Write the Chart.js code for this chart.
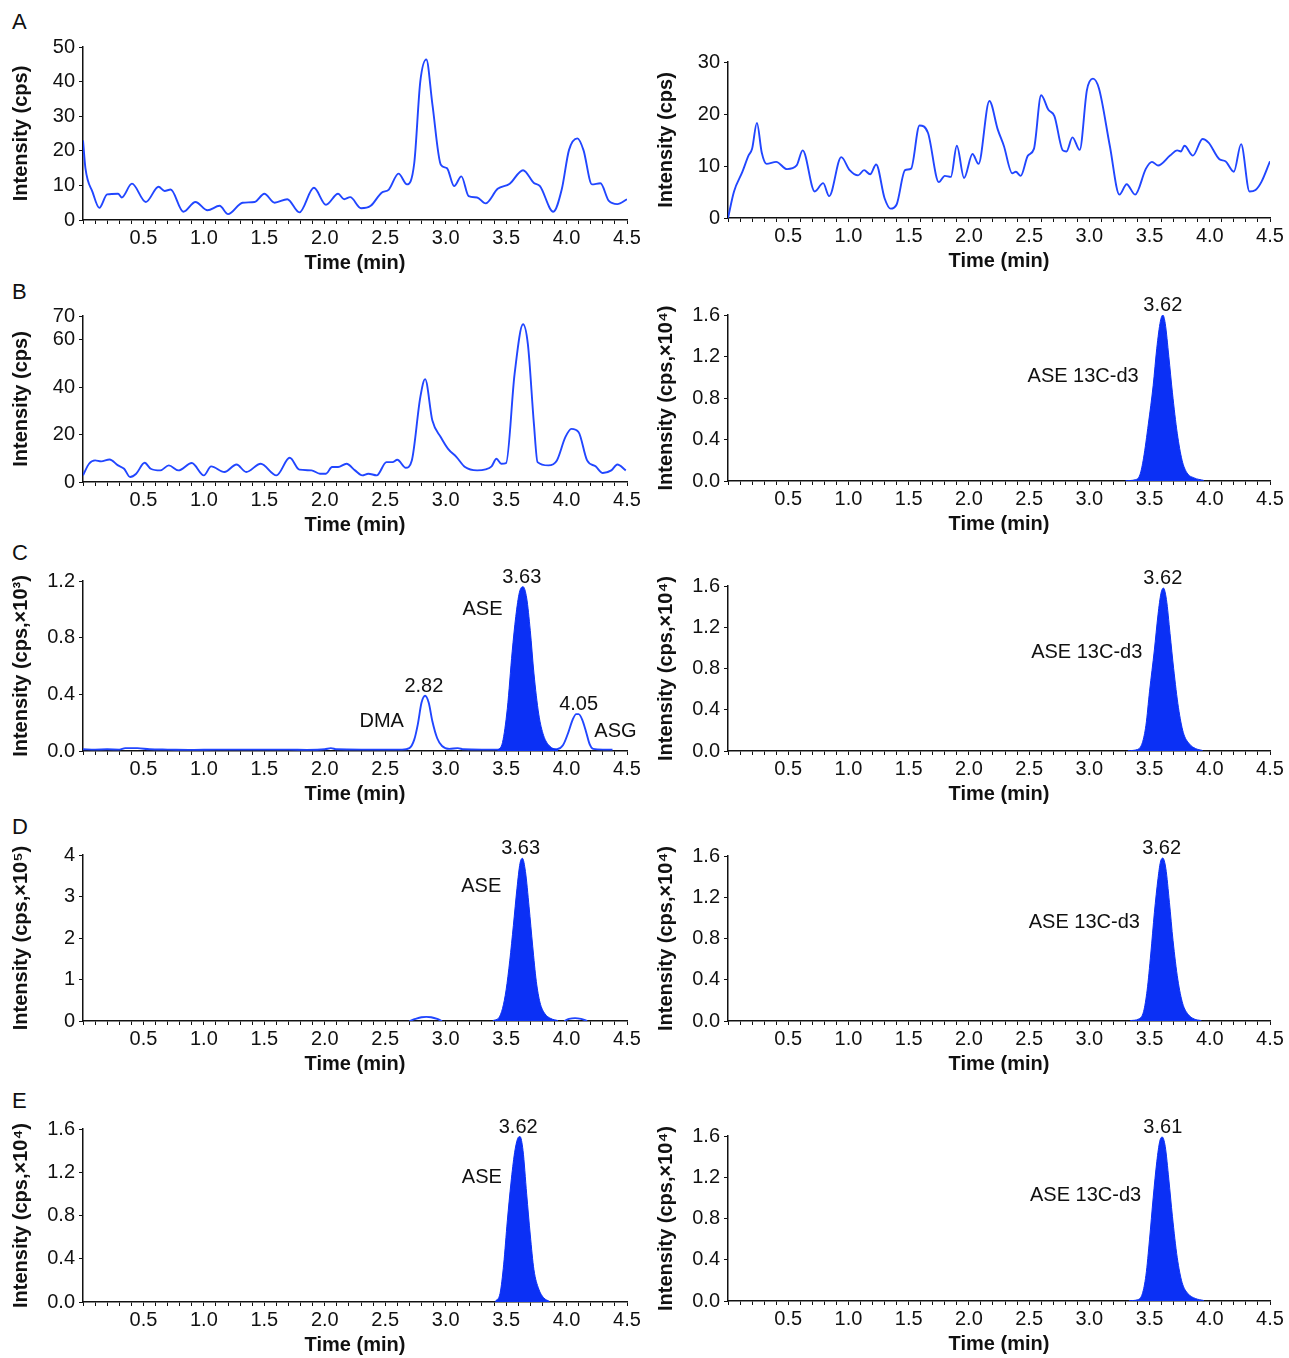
<!DOCTYPE html>
<html>
<head>
<meta charset="utf-8">
<title>Chromatograms</title>
<script src="https://cdn.jsdelivr.net/npm/chart.js@4.4.0/dist/chart.umd.min.js"></script>
<style>
  html, body { margin: 0; padding: 0; background: #fff; overflow: hidden; }
  body { width: 1289px; height: 1358px; position: relative; font-family: "Liberation Sans", Arial, sans-serif; }
  .panel { position: absolute; }
  .letter { position: absolute; font-size: 22px; line-height: 22px; color: #111; }
</style>
</head>
<body>
<div class="letter" style="left:12px; top:11px;">A</div>
<div class="letter" style="left:12px; top:281px;">B</div>
<div class="letter" style="left:12px; top:542px;">C</div>
<div class="letter" style="left:12px; top:816px;">D</div>
<div class="letter" style="left:12px; top:1090px;">E</div>

<script>
// ---- data ----
const xTickLabels = ["0.5", "1.0", "1.5", "2.0", "2.5", "3.0", "3.5", "4.0", "4.5"];

// A, blank (cps)
const aLeftTimes = [0, 0.02, 0.08, 0.135, 0.2, 0.29, 0.32, 0.405, 0.52, 0.625, 0.675, 0.725, 0.83, 0.93, 1.03, 1.13, 1.2, 1.32, 1.42, 1.5,
  1.585, 1.69, 1.79, 1.91, 2.01, 2.11, 2.16, 2.21, 2.3, 2.38, 2.47, 2.53, 2.61, 2.68, 2.74, 2.79, 2.84, 2.89, 2.96, 3.01,
  3.07, 3.13, 3.19, 3.26, 3.33, 3.43, 3.53, 3.64, 3.73, 3.78, 3.89, 3.96, 4.02, 4.09, 4.14, 4.21, 4.28, 4.35, 4.42, 4.5];
const aLeftValues = [23, 15, 8, 3.5, 7.4, 7.6, 6.5, 10.5, 5.2, 9.6, 8.4, 8.8, 2.4, 5.2, 2.8, 4.1, 1.7, 5, 5.2, 7.6,
  5, 6, 2.2, 9.3, 4.4, 7.6, 6, 6.6, 3.4, 4.1, 7.9, 8.8, 13.4, 10.3, 16.4, 40, 46.4, 33.5, 16, 15,
  9.8, 12.6, 6.9, 6.5, 4.8, 9, 10.5, 14.4, 10.7, 9.8, 2.4, 8.8, 20.2, 23.6, 20.2, 10.3, 10.6, 5.5, 4.6, 6];

const aRightTimes = [0, 0.05, 0.12, 0.17, 0.2, 0.24, 0.28, 0.32, 0.4, 0.49, 0.57, 0.62, 0.72, 0.79, 0.84, 0.94, 1.01, 1.08, 1.13, 1.18,
  1.23, 1.3, 1.35, 1.4, 1.47, 1.52, 1.59, 1.66, 1.75, 1.8, 1.85, 1.9, 1.96, 2.03, 2.08, 2.17, 2.24, 2.29, 2.36, 2.39,
  2.43, 2.49, 2.54, 2.6, 2.66, 2.71, 2.78, 2.81, 2.86, 2.92, 2.98, 3.03, 3.08, 3.17, 3.25, 3.31, 3.38, 3.47, 3.52, 3.57,
  3.67, 3.73, 3.76, 3.79, 3.86, 3.94, 3.99, 4.08, 4.13, 4.2, 4.26, 4.33, 4.38, 4.43, 4.5];
const aRightValues = [0, 5.1, 8.9, 12, 13.3, 18.3, 12.6, 10.4, 10.8, 9.4, 10.1, 13, 5.1, 6.7, 4.2, 11.7, 9.2, 8.2, 9.2, 8.4,
  10.3, 3.8, 1.8, 2.6, 9.2, 9.5, 17.8, 16.4, 6.9, 8.1, 7.9, 13.9, 7.7, 12.3, 10.4, 22.5, 17, 13.9, 8.6, 8.9,
  8.1, 12, 13.3, 23.6, 20.8, 19.6, 13, 12.8, 15.5, 13.1, 24.6, 26.8, 24.9, 13.9, 4.5, 6.5, 4.5, 9.5, 10.8, 10.1,
  12, 13, 12.8, 13.9, 12, 15.2, 14.5, 11.3, 10.9, 8.9, 14.2, 5.1, 5.4, 7, 10.9];

// B
const bLeftTimes = [0, 0.05, 0.1, 0.15, 0.22, 0.29, 0.34, 0.39, 0.44, 0.51, 0.56, 0.64, 0.71, 0.79, 0.9, 1.0, 1.06, 1.17, 1.27, 1.35,
  1.47, 1.6, 1.71, 1.79, 1.89, 1.96, 2.01, 2.06, 2.11, 2.18, 2.25, 2.31, 2.36, 2.43, 2.51, 2.56, 2.6, 2.67, 2.72, 2.79,
  2.83, 2.89, 2.96, 3.02, 3.09, 3.16, 3.26, 3.33, 3.38, 3.42, 3.46, 3.5, 3.57, 3.64, 3.68, 3.73, 3.76, 3.85, 3.92, 3.99,
  4.04, 4.1, 4.17, 4.24, 4.3, 4.37, 4.42, 4.49];
const bLeftValues = [2.8, 7.7, 9.1, 8.7, 9.5, 7, 5.6, 2.1, 3.5, 8.1, 5.6, 4.9, 7, 4.9, 8, 2.8, 6.6, 4.2, 7.4, 4.2,
  7.7, 2.8, 10.2, 5.2, 4.9, 3.5, 3.5, 6.3, 6.3, 7.7, 4.9, 2.8, 3.5, 2.8, 8.4, 8.4, 9.4, 6, 9.1, 35.7,
  43.4, 25.9, 18.9, 14, 10.5, 6.3, 4.9, 5.3, 6.6, 9.8, 7.7, 8, 45.5, 66.5, 58.1, 24.5, 8.4, 7, 9.1, 18.9,
  22.4, 21, 9.1, 6.6, 3.8, 4.9, 7.4, 4.9];

const bRightPeakTimes = [3.30, 3.38, 3.42, 3.45, 3.49, 3.53, 3.56, 3.59, 3.61, 3.63, 3.66, 3.69, 3.73, 3.77, 3.81, 3.87, 3.95];
const bRightPeakValues = [0.003, 0.012, 0.06, 0.22, 0.55, 0.92, 1.28, 1.54, 1.6, 1.52, 1.2, 0.85, 0.46, 0.2, 0.08, 0.03, 0.006];

// C
const cLeftTraceTimes = [0, 0.1, 0.2, 0.3, 0.35, 0.45, 0.55, 0.7, 0.9, 1.1, 1.3, 1.5, 1.7, 1.85, 2.0, 2.05, 2.1, 2.3, 2.5, 2.64,
  2.70, 2.74, 2.77, 2.80, 2.83, 2.86, 2.89, 2.93, 2.97, 3.03, 3.1, 3.15, 3.3, 3.5, 3.7, 3.92, 3.97, 4.01, 4.05, 4.08,
  4.10, 4.13, 4.16, 4.19, 4.22, 4.3, 4.38];
const cLeftTraceValues = [0.012, 0.01, 0.012, 0.01, 0.02, 0.02, 0.012, 0.01, 0.008, 0.01, 0.01, 0.01, 0.01, 0.008, 0.012, 0.02, 0.012, 0.01, 0.01, 0.01,
  0.02, 0.08, 0.19, 0.34, 0.39, 0.34, 0.21, 0.09, 0.035, 0.015, 0.02, 0.012, 0.01, 0.01, 0.01, 0.012, 0.04, 0.12, 0.22, 0.26,
  0.26, 0.22, 0.14, 0.05, 0.015, 0.01, 0.01];
const cLeftPeakTimes = [3.43, 3.47, 3.51, 3.55, 3.58, 3.61, 3.64, 3.67, 3.70, 3.73, 3.77, 3.81, 3.86, 3.93];
const cLeftPeakValues = [0.005, 0.06, 0.3, 0.7, 0.95, 1.12, 1.16, 1.08, 0.85, 0.55, 0.26, 0.11, 0.035, 0.005];

const cRightPeakTimes = [3.32, 3.40, 3.44, 3.47, 3.50, 3.54, 3.57, 3.595, 3.615, 3.64, 3.67, 3.70, 3.74, 3.78, 3.83, 3.88, 3.94];
const cRightPeakValues = [0.003, 0.015, 0.08, 0.25, 0.58, 0.98, 1.32, 1.53, 1.58, 1.47, 1.14, 0.8, 0.42, 0.18, 0.07, 0.025, 0.005];

// D
const dLeftTraceTimes = [2.70, 2.75, 2.80, 2.84, 2.88, 2.93, 2.97, 3.3, 3.98, 4.02, 4.07, 4.12, 4.17];
const dLeftTraceValues = [0, 0.05, 0.09, 0.1, 0.09, 0.05, 0, null, 0, 0.05, 0.07, 0.05, 0];
const dLeftPeakTimes = [3.39, 3.44, 3.47, 3.50, 3.53, 3.56, 3.59, 3.615, 3.635, 3.66, 3.69, 3.72, 3.75, 3.78, 3.82, 3.87, 3.93];
const dLeftPeakValues = [0.01, 0.08, 0.3, 0.75, 1.45, 2.3, 3.2, 3.8, 3.92, 3.6, 2.75, 1.8, 0.95, 0.45, 0.18, 0.06, 0.01];

const dRightPeakTimes = [3.34, 3.41, 3.45, 3.48, 3.51, 3.54, 3.57, 3.59, 3.61, 3.635, 3.665, 3.695, 3.735, 3.775, 3.82, 3.87, 3.93];
const dRightPeakValues = [0.004, 0.02, 0.09, 0.3, 0.65, 1.05, 1.38, 1.54, 1.58, 1.48, 1.15, 0.78, 0.4, 0.17, 0.065, 0.02, 0.004];

// E
const eLeftPeakTimes = [3.41, 3.45, 3.48, 3.51, 3.54, 3.57, 3.595, 3.615, 3.64, 3.67, 3.70, 3.73, 3.77, 3.81, 3.86];
const eLeftPeakValues = [0.005, 0.08, 0.35, 0.75, 1.1, 1.38, 1.51, 1.53, 1.4, 1.0, 0.62, 0.3, 0.12, 0.04, 0.005];

const eRightPeakTimes = [3.33, 3.40, 3.44, 3.47, 3.50, 3.53, 3.56, 3.585, 3.605, 3.63, 3.66, 3.69, 3.73, 3.77, 3.82, 3.88, 3.95];
const eRightPeakValues = [0.003, 0.012, 0.07, 0.25, 0.6, 1.0, 1.35, 1.55, 1.59, 1.5, 1.18, 0.82, 0.42, 0.18, 0.07, 0.025, 0.005];

// y axis ticks
const cpsTicksA = [0, 10, 20, 30, 40, 50];
const cpsTicksARight = [0, 10, 20, 30];
const cpsTicksB = [0, 20, 40, 60, 70];
const e3Ticks = [0, 0.4, 0.8, 1.2];
const e4Ticks = [0, 0.4, 0.8, 1.2, 1.6];
const e5Ticks = [0, 1, 2, 3, 4];

// peak labels (time, intensity)
const bRightNotes = [{ text: "3.62", x: 3.61, y: 1.6, kind: "peak" }, { text: "ASE 13C-d3", x: 3.41, y: 1.01 }];
const cLeftNotes = [
  { text: "3.63", x: 3.63, y: 1.16, kind: "peak" }, { text: "ASE", x: 3.47, y: 1.0 },
  { text: "2.82", x: 2.82, y: 0.39, kind: "peak" }, { text: "DMA", x: 2.655, y: 0.205 },
  { text: "4.05", x: 4.10, y: 0.26, kind: "peak" }, { text: "ASG", x: 4.23, y: 0.14, align: "left" }
];
const cRightNotes = [{ text: "3.62", x: 3.61, y: 1.58, kind: "peak" }, { text: "ASE 13C-d3", x: 3.44, y: 0.96 }];
const dLeftNotes = [{ text: "3.63", x: 3.62, y: 3.92, kind: "peak" }, { text: "ASE", x: 3.46, y: 3.23 }];
const dRightNotes = [{ text: "3.62", x: 3.60, y: 1.58, kind: "peak" }, { text: "ASE 13C-d3", x: 3.42, y: 0.96 }];
const eLeftNotes = [{ text: "3.62", x: 3.60, y: 1.53, kind: "peak" }, { text: "ASE", x: 3.465, y: 1.156 }];
const eRightNotes = [{ text: "3.61", x: 3.61, y: 1.59, kind: "peak" }, { text: "ASE 13C-d3", x: 3.43, y: 1.02 }];

// ---- drawing ----
const FONT = '"Liberation Sans", Arial, sans-serif';
const LINE_BLUE = "#2146ff";
const FILL_BLUE = "#0b30f5";
const INK = "#111";
Chart.defaults.font.family = FONT;

const Y_BOX = 83, X_BOX = 55, PAD_TOP = 34, PAD_RIGHT = 18;

function pts(times, values) {
  return times.map((t, i) => ({ x: t, y: values[i] }));
}
function trace(times, values) {
  return { data: pts(times, values), borderColor: LINE_BLUE, borderWidth: 1.9, fill: false,
    tension: 0.4, cubicInterpolationMode: "monotone", pointRadius: 0, spanGaps: false };
}
function peak(times, values) {
  return { data: pts(times, values), borderColor: FILL_BLUE, backgroundColor: FILL_BLUE, borderWidth: 1,
    fill: "origin", tension: 0.4, cubicInterpolationMode: "monotone", pointRadius: 0 };
}

const notesPlugin = {
  id: "notes",
  afterDatasetsDraw(chart, args, opts) {
    const notes = opts.list || [];
    const { ctx, scales: { x, y } } = chart;
    ctx.save();
    ctx.font = "20px " + FONT;
    ctx.fillStyle = INK;
    notes.forEach(n => {
      const px = x.getPixelForValue(n.x);
      const py = y.getPixelForValue(n.y);
      if (n.kind === "peak") {
        ctx.textAlign = "center";
        ctx.textBaseline = "alphabetic";
        ctx.fillText(n.text, px, py - 4);
      } else {
        ctx.textAlign = n.align || "right";
        ctx.textBaseline = "middle";
        ctx.fillText(n.text, px, py);
      }
    });
    ctx.restore();
  }
};

const LEFT = { x0: 83, x1: 627 };
const RIGHT = { x0: 728, x1: 1270 };
const titleCps = "Intensity (cps)";

const panels = [
  { col: LEFT, yTop: 47, yBot: 220, max: 50, ticks: cpsTicksA, dec: 0, title: titleCps,
    datasets: [trace(aLeftTimes, aLeftValues)] },
  { col: RIGHT, yTop: 62, yBot: 218, max: 30, ticks: cpsTicksARight, dec: 0, title: titleCps,
    datasets: [trace(aRightTimes, aRightValues)] },
  { col: LEFT, yTop: 316, yBot: 482, max: 70, ticks: cpsTicksB, dec: 0, title: titleCps,
    datasets: [trace(bLeftTimes, bLeftValues)] },
  { col: RIGHT, yTop: 315, yBot: 481, max: 1.6, ticks: e4Ticks, dec: 1, title: "Intensity (cps,\u00d710\u2074)",
    datasets: [peak(bRightPeakTimes, bRightPeakValues)], notes: bRightNotes },
  { col: LEFT, yTop: 581, yBot: 751, max: 1.2, ticks: e3Ticks, dec: 1, title: "Intensity (cps,\u00d710\u00b3)",
    datasets: [peak(cLeftPeakTimes, cLeftPeakValues), trace(cLeftTraceTimes, cLeftTraceValues)], notes: cLeftNotes },
  { col: RIGHT, yTop: 586, yBot: 751, max: 1.6, ticks: e4Ticks, dec: 1, title: "Intensity (cps,\u00d710\u2074)",
    datasets: [peak(cRightPeakTimes, cRightPeakValues)], notes: cRightNotes },
  { col: LEFT, yTop: 855, yBot: 1021, max: 4, ticks: e5Ticks, dec: 0, title: "Intensity (cps,\u00d710\u2075)",
    datasets: [peak(dLeftPeakTimes, dLeftPeakValues), trace(dLeftTraceTimes, dLeftTraceValues)], notes: dLeftNotes },
  { col: RIGHT, yTop: 856, yBot: 1021, max: 1.6, ticks: e4Ticks, dec: 1, title: "Intensity (cps,\u00d710\u2074)",
    datasets: [peak(dRightPeakTimes, dRightPeakValues)], notes: dRightNotes },
  { col: LEFT, yTop: 1129, yBot: 1302, max: 1.6, ticks: e4Ticks, dec: 1, title: "Intensity (cps,\u00d710\u2074)",
    datasets: [peak(eLeftPeakTimes, eLeftPeakValues)], notes: eLeftNotes },
  { col: RIGHT, yTop: 1136, yBot: 1301, max: 1.6, ticks: e4Ticks, dec: 1, title: "Intensity (cps,\u00d710\u2074)",
    datasets: [peak(eRightPeakTimes, eRightPeakValues)], notes: eRightNotes }
];

// x ticks every 0.1 min, labels on the half minutes
const xMinor = [];
for (let i = 0; i <= 45; i++) xMinor.push(i / 10);

panels.forEach(p => {
  const left = p.col.x0 - Y_BOX;
  const top = p.yTop - PAD_TOP;
  const w = p.col.x1 - p.col.x0 + Y_BOX + PAD_RIGHT;
  const h = p.yBot - p.yTop + PAD_TOP + X_BOX;

  const box = document.createElement("div");
  box.className = "panel";
  box.style.left = left + "px";
  box.style.top = top + "px";
  box.style.width = w + "px";
  box.style.height = h + "px";
  const canvas = document.createElement("canvas");
  canvas.width = w;
  canvas.height = h;
  box.appendChild(canvas);
  document.body.appendChild(box);

  new Chart(canvas.getContext("2d"), {
    type: "line",
    data: { datasets: p.datasets },
    plugins: [notesPlugin],
    options: {
      responsive: false,
      animation: false,
      devicePixelRatio: 1,
      layout: { padding: { top: PAD_TOP, right: PAD_RIGHT, left: 0, bottom: 0 } },
      plugins: {
        legend: { display: false },
        tooltip: { enabled: false },
        notes: { list: p.notes || [] }
      },
      scales: {
        x: {
          type: "linear", min: 0, max: 4.5,
          afterBuildTicks: s => { s.ticks = xMinor.map(v => ({ value: v })); },
          afterFit: s => { s.height = X_BOX; },
          ticks: {
            autoSkip: false, maxRotation: 0, minRotation: 0, padding: 2, color: INK,
            font: { size: 20 },
            callback: v => (xTickLabels.includes(Number(v).toFixed(1)) && Math.abs(v * 2 - Math.round(v * 2)) < 1e-6) ? Number(v).toFixed(1) : ""
          },
          grid: { display: true, drawOnChartArea: false, drawTicks: true, tickLength: 4, color: INK, lineWidth: 1 },
          border: { display: true, color: INK, width: 1.5 },
          title: { display: true, text: "Time (min)", color: INK, font: { size: 20, weight: "bold" }, padding: { top: 0, bottom: 0 } }
        },
        y: {
          type: "linear", min: 0, max: p.max,
          afterBuildTicks: s => { s.ticks = p.ticks.map(v => ({ value: v })); },
          afterFit: s => { s.width = Y_BOX; },
          ticks: { color: INK, padding: 4, font: { size: 20 }, callback: v => Number(v).toFixed(p.dec) },
          grid: { display: true, drawOnChartArea: false, drawTicks: true, tickLength: 4, color: INK, lineWidth: 1 },
          border: { display: true, color: INK, width: 1.5 },
          title: { display: true, text: p.title, color: INK, font: { size: 20, weight: "bold" }, padding: { top: 9, bottom: 0 } }
        }
      }
    }
  });
});
</script>
</body>
</html>
